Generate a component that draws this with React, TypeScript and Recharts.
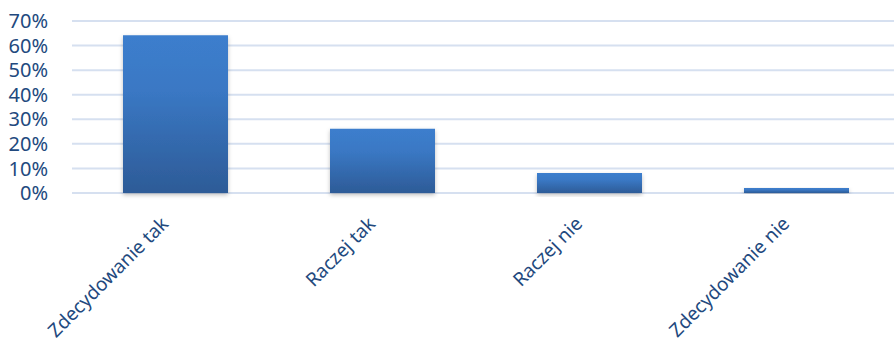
import React from 'react';
import { BarChart, Bar, XAxis, YAxis, CartesianGrid } from 'recharts';

const categories = ['Zdecydowanie tak', 'Raczej tak', 'Raczej nie', 'Zdecydowanie nie'];
const shares = [0.642, 0.261, 0.081, 0.02];
const yTicks = [0, 0.1, 0.2, 0.3, 0.4, 0.5, 0.6, 0.7];

const TEXT = '#22497E';
const FONT = '"Noto Sans", sans-serif';

const data = categories.map((name, i) => ({ name, value: shares[i] }));

function AngledTick(props: { x?: number; y?: number; payload?: { value: string } }) {
  const { x = 0, y = 0, payload } = props;
  const ax = x - 6;
  const ay = y + 24;
  return (
    <text
      x={ax}
      y={ay}
      transform={`rotate(-45, ${ax}, ${ay})`}
      textAnchor="end"
      fill={TEXT}
      fontSize={19}
      fontFamily={FONT}
    >
      {payload?.value}
    </text>
  );
}

export default function App() {
  return (
    <div style={{ position: 'absolute', left: 0, top: 0, width: 894, height: 348, overflow: 'hidden', background: '#fff' }}>
      <BarChart
        width={900}
        height={348}
        data={data}
        margin={{ top: 21, right: 0, bottom: 0, left: 0 }}
      >
        <defs>
          <linearGradient id="barFill" x1="0" y1="0" x2="0" y2="1">
            <stop offset="0%" stopColor="#3C7ECD" />
            <stop offset="35%" stopColor="#3A78C4" />
            <stop offset="100%" stopColor="#2D5B97" />
          </linearGradient>
          <filter id="barShadow" x="-10%" y="-10%" width="120%" height="130%">
            <feDropShadow dx="0" dy="2" stdDeviation="2" floodColor="#000" floodOpacity="0.25" />
          </filter>
        </defs>
        <CartesianGrid horizontal vertical={false} stroke="#D6E0F0" strokeWidth={2} />
        <XAxis
          dataKey="name"
          axisLine={false}
          tickLine={false}
          height={155}
          interval={0}
          tick={<AngledTick />}
        />
        <YAxis
          width={72}
          domain={[0, 0.7]}
          ticks={yTicks}
          interval={0}
          axisLine={false}
          tickLine={false}
          tickMargin={18}
          tickFormatter={(v: number) => `${Math.round(v * 100)}%`}
          tick={{ fill: TEXT, fontSize: 20, fontFamily: FONT }}
        />
        <Bar
          dataKey="value"
          fill="url(#barFill)"
          barSize={105}
          filter="url(#barShadow)"
          isAnimationActive={false}
        />
      </BarChart>
    </div>
  );
}
